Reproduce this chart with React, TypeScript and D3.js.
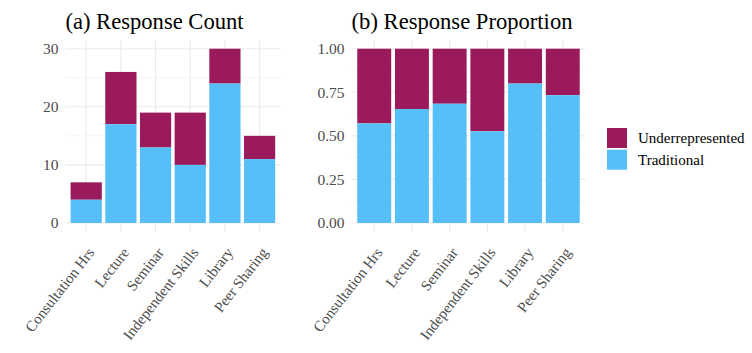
import React from 'react';
import * as d3 from 'd3';

const categories = ['Consultation Hrs', 'Lecture', 'Seminar', 'Independent Skills', 'Library', 'Peer Sharing'];
const traditional = [4, 17, 13, 10, 24, 11];
const underrepresented = [3, 9, 6, 9, 6, 4];
const countTicks = [0, 10, 20, 30];
const propTicks = [0, 0.25, 0.5, 0.75, 1];
const seriesNames = ['Underrepresented', 'Traditional'];

const W = 752;
const H = 353;
const FONT = '"Liberation Serif", "Times New Roman", serif';
const colors = { Underrepresented: '#9a1a5b', Traditional: '#56bff7' };

type PanelProps = {
  left: number;
  right: number;
  title: string;
  values: number[][]; // [traditional, underrepresented] per category
  domainMax: number;
  ticks: number[];
  fmt: (v: number) => string;
};

const Panel = ({ left, right, title, values, domainMax, ticks, fmt }: PanelProps) => {
  const top = 40;
  const bottom = 231.7;
  const pad = domainMax * 0.05;
  const y = d3.scaleLinear().domain([-pad, domainMax + pad]).range([bottom, top]);
  // discrete axis with ggplot-like 0.6 expansion
  const x = d3.scaleLinear().domain([0.4, categories.length + 0.6]).range([left, right]);
  const step = x(2) - x(1);
  const bw = step * 0.9;
  const minor = ticks.slice(1).map((t, i) => (t + ticks[i]) / 2);

  return (
    <g>
      <text x={left} y={29} fontSize={22.6} fill="#000" fontFamily={FONT}>{title}</text>
      {minor.map(t => (
        <line key={'m' + t} x1={left} x2={right} y1={y(t)} y2={y(t)} stroke="#f0f0f0" strokeWidth={0.6} />
      ))}
      {ticks.map(t => (
        <line key={'g' + t} x1={left} x2={right} y1={y(t)} y2={y(t)} stroke="#ebebeb" strokeWidth={1.1} />
      ))}
      {categories.map((c, i) => (
        <line key={'v' + c} x1={x(i + 1)} x2={x(i + 1)} y1={top} y2={bottom} stroke="#ebebeb" strokeWidth={1.1} />
      ))}
      {categories.map((c, i) => {
        const [tr, un] = values[i];
        const cx = x(i + 1);
        return (
          <g key={c}>
            <rect x={cx - bw / 2} y={y(tr + un)} width={bw} height={y(tr) - y(tr + un)} fill={colors.Underrepresented} />
            <rect x={cx - bw / 2} y={y(tr)} width={bw} height={y(0) - y(tr)} fill={colors.Traditional} />
          </g>
        );
      })}
      {ticks.map(t => (
        <text key={'t' + t} x={left - 7} y={y(t)} dy="0.35em" textAnchor="end" fontSize={15.5} fill="#4d4d4d" fontFamily={FONT}>
          {fmt(t)}
        </text>
      ))}
      {categories.map((c, i) => (
        <text
          key={'x' + c}
          transform={`translate(${x(i + 1) + 9},${bottom + 21}) rotate(-52)`}
          textAnchor="end"
          fontSize={15}
          fill="#4d4d4d"
          fontFamily={FONT}
        >
          {c}
        </text>
      ))}
    </g>
  );
};

export default function App() {
  const counts = categories.map((_, i) => [traditional[i], underrepresented[i]]);
  const props = categories.map((_, i) => {
    const tot = traditional[i] + underrepresented[i];
    return [traditional[i] / tot, underrepresented[i] / tot];
  });
  return (
    <div style={{ position: 'absolute', left: 0, top: 0 }}>
      <svg width={W} height={H} style={{ display: 'block', background: '#fff' }}>
        <Panel left={65.4} right={280.4} title="(a) Response Count" values={counts} domainMax={30} ticks={countTicks} fmt={d3.format('d')} />
        <Panel left={351.6} right={585.4} title="(b) Response Proportion" values={props} domainMax={1} ticks={propTicks} fmt={d3.format('.2f')} />
        {seriesNames.map((s, i) => (
          <g key={s} transform={`translate(607,${128 + i * 21.7})`}>
            <rect width={20} height={20} fill={colors[s as keyof typeof colors]} />
            <text x={31} y={10} dy="0.35em" fontSize={15} fill="#000" fontFamily={FONT}>{s}</text>
          </g>
        ))}
      </svg>
    </div>
  );
}
